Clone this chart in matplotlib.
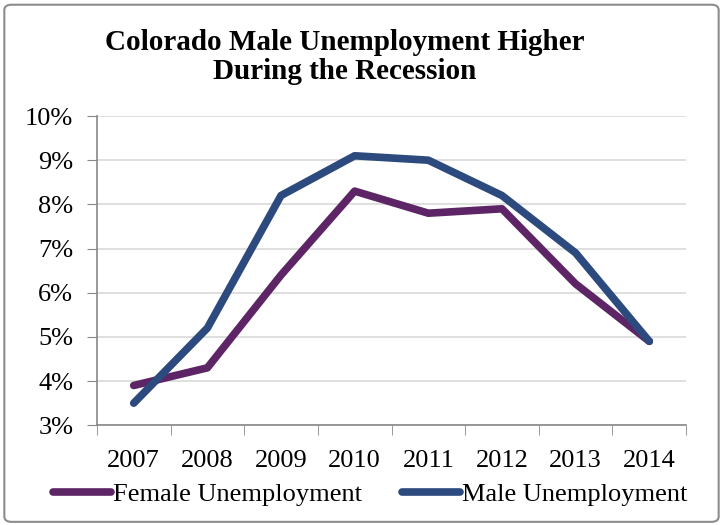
import matplotlib.pyplot as plt
from matplotlib.patches import FancyBboxPatch
from matplotlib.lines import Line2D
from matplotlib.ticker import FixedLocator, NullFormatter

years = ['2007', '2008', '2009', '2010', '2011', '2012', '2013', '2014']
female = [3.9, 4.3, 6.4, 8.3, 7.8, 7.9, 6.2, 4.9]
male = [3.5, 5.2, 8.2, 9.1, 9.0, 8.2, 6.9, 4.9]
y_ticks = [3, 4, 5, 6, 7, 8, 9, 10]

plt.rcParams['font.family'] = ['Liberation Serif', 'DejaVu Serif']

fig = plt.figure(figsize=(7.23, 5.25), dpi=100)
ax = fig.add_axes([0.134, 0.190, 0.815, 0.589])

x = list(range(len(years)))
ax.plot(x, female, color='#5E2566', lw=5.5, solid_capstyle='round', solid_joinstyle='round')
ax.plot(x, male, color='#2C4A7E', lw=5.5, solid_capstyle='round', solid_joinstyle='round')

ax.set_xlim(-0.5, len(years) - 0.5)
ax.set_ylim(3, 10)
ax.set_yticks(y_ticks)
ax.set_yticklabels([f'{v}%' for v in y_ticks], fontsize=19)
ax.set_xticks(x)
ax.set_xticklabels(years, fontsize=19)
ax.tick_params(axis='x', which='major', length=0, pad=18)
ax.xaxis.set_minor_locator(FixedLocator([i - 0.5 for i in range(len(years) + 1)]))
ax.xaxis.set_minor_formatter(NullFormatter())
ax.tick_params(axis='x', which='minor', length=7, color='#888888', direction='out')
ax.tick_params(axis='y', length=7, color='#888888', direction='out', pad=10)

ax.grid(axis='y', color='#D9D9D9', lw=1.2)
ax.set_axisbelow(True)
for s in ['top', 'right']:
    ax.spines[s].set_visible(False)
for s in ['left', 'bottom']:
    ax.spines[s].set_color('#888888')
    ax.spines[s].set_linewidth(1.2)

fig.text(0.477, 0.892, 'Colorado Male Unemployment Higher\nDuring the Recession',
         ha='center', va='center', fontsize=21, fontweight='bold', linespacing=1.1)

handles = [Line2D([], [], color='#5E2566', lw=5.5, solid_capstyle='round'),
           Line2D([], [], color='#2C4A7E', lw=5.5, solid_capstyle='round')]
fig.legend(handles, ['Female Unemployment', 'Male Unemployment'], loc='center',
           bbox_to_anchor=(0.512, 0.058), ncol=2, frameon=False, fontsize=19,
           handlelength=2.2, handletextpad=0.1, columnspacing=1.5)

border = FancyBboxPatch((0.006, 0.006), 0.988, 0.985, boxstyle='round,pad=0,rounding_size=0.01',
                        transform=fig.transFigure, fill=False, edgecolor='#8C8C8C', lw=1.5)
fig.patches.append(border)

fig.savefig('out.png', dpi=100)
